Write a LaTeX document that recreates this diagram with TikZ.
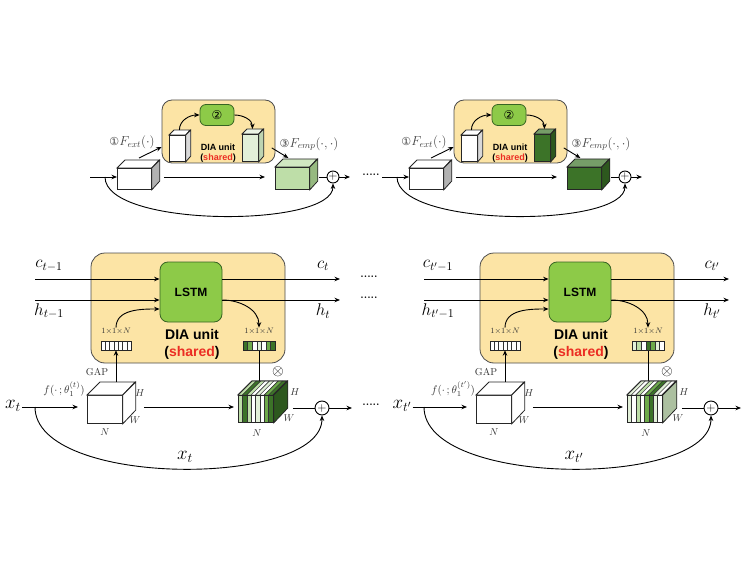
\RequirePackage{fix-cm}
\documentclass[tikz,border=0pt]{standalone}
\usepackage{fontspec}
\newfontfamily\arialfont{Liberation Sans}
\newfontfamily\symfont{DejaVu Sans}
\usetikzlibrary{arrows.meta,calc,positioning}

\definecolor{diayellow}{RGB}{252,228,165}
\definecolor{lstmgreen}{RGB}{141,202,72}
\definecolor{lstmedge}{RGB}{55,100,35}
\definecolor{sharedred}{RGB}{235,45,35}
\definecolor{vlg}{RGB}{226,240,216}
\definecolor{lg}{RGB}{190,222,168}
\definecolor{mg}{RGB}{110,170,75}
\definecolor{dg}{RGB}{60,115,40}
\definecolor{paleside}{RGB}{190,212,178}
\definecolor{lightside}{RGB}{150,185,128}
\definecolor{darkside}{RGB}{45,88,30}
\definecolor{sageside}{RGB}{172,192,160}

\tikzset{
  dia/.style={draw=black!70, fill=diayellow, rounded corners=10pt, line width=0.8pt},
  cell/.style={draw=lstmedge, fill=lstmgreen, rounded corners=6pt, line width=0.8pt},
  face/.style={draw=black!85, line width=0.8pt, inner sep=0pt},
  arr/.style={-{Stealth[length=5.5pt,width=4.5pt]}, line width=0.9pt},
  line/.style={line width=0.9pt},
  oplus/.style={circle, draw, line width=0.9pt, inner sep=0pt, font=\fontsize{12}{12}\selectfont},
  mlab/.style={inner sep=1pt, font=\fontsize{17}{17}\selectfont},
  flab/.style={inner sep=1pt, text=black!75, font=\fontsize{13}{13}\selectfont},
  dimlab/.style={inner sep=0pt, text=black!80, font=\fontsize{10}{10}\selectfont},
  dots/.style={inner sep=0pt, font=\bfseries\fontsize{11}{11}\selectfont},
}

% cuboid: name, x, y (front top left), width, height, depth, front colour, side colour
\newcommand{\featcube}[8]{%
  \node[face,fill=#7,minimum width=#4pt,minimum height=#5pt,anchor=north west] (#1) at (#2,#3) {};
  \draw[face,fill=#7!70!white] (#1.north west) -- ++(#6,-#6) -- ++(#4,0) -- (#1.north east) -- cycle;
  \draw[face,fill=#8] (#1.north east) -- ++(#6,-#6) -- ++(0,#5) -- (#1.south east) -- cycle;}

% striped front and top: x, y, width, height, depth, count, colours
\newcommand{\stripes}[7]{%
  \foreach \col [count=\k from 0] in {#7}{%
    \filldraw[fill=\col,draw=black!80,line width=0.4pt] ({#1+\k*#3/#6},#2) rectangle ++({#3/#6},#4);
    \filldraw[fill=\col,draw=black!80,line width=0.4pt] ({#1+\k*#3/#6},#2) -- ++(#5,-#5) -- ++({#3/#6},0) -- ++(-#5,#5) -- cycle;}
  \draw[face] (#1,#2) rectangle ++(#3,#4);
  \draw[face] (#1,#2) -- ++(#5,-#5) -- ++(#3,0) -- ++(-#5,#5);}

% 1x1xN vector: x, y, width, height, count, colours
\newcommand{\cells}[6]{%
  \foreach \col [count=\k from 0] in {#6}{%
    \filldraw[fill=\col,draw=black!80,line width=0.4pt] ({#1+\k*#3/#5},#2) rectangle ++({#3/#5},#4);}
  \draw[face] (#1,#2) rectangle ++(#3,#4);}

\begin{document}
\begin{tikzpicture}[x=1pt,y=-1pt]
\useasboundingbox (0,0) rectangle (751,577);

%% top row
\foreach \o/\s/\sc/\sd/\bc/\bd in {0/a/vlg/paleside/lg/lightside, 292/b/dg/darkside/dg/darkside}{
\begin{scope}[xshift=\o pt]
\node[dia, minimum width=113pt, minimum height=63pt] (dia\s) at (218.5,131.5) {};
\node[cell, minimum width=34pt, minimum height=21pt, font=\symfont\fontsize{12}{12}\selectfont] (two\s) at (217,115) {②};
\node[inner sep=0pt, font=\arialfont\bfseries\fontsize{9}{9}\selectfont] (name\s) at (218,147) {DIA unit};
\node[inner sep=0pt, font=\arialfont\bfseries\fontsize{9}{9}\selectfont] (shared\s) at (218,158) {(\textcolor{sharedred}{shared})};

\featcube{sw\s}{169}{135}{16}{26}{5}{white}{black!15}
\featcube{sg\s}{242}{134}{16}{27}{5}{\sc}{\sd}
\featcube{in\s}{117}{168}{34}{21}{8}{white}{black!30}
\featcube{bg\s}{275}{167}{34}{22}{8}{\bc}{\bd}

\node[oplus, minimum size=12pt] (sum\s) at (333,177) {$+$};
\coordinate (src\s) at (90,177);
\coordinate (skip\s) at (105,177);
\coordinate (out\s) at (350,177);
\coordinate (ext\s) at (139,158);

\draw[arr] (src\s) -- (src\s -| in\s.west);
\draw[arr, shorten <=12pt, shorten >=10pt] (in\s.east |- src\s) -- (bg\s.west |- src\s);
\draw[line, shorten <=9pt] (bg\s.east |- src\s) -- (sum\s.west);
\draw[arr] (sum\s.east) -- (out\s);
\draw[arr] (skip\s) .. controls (105,228) and (333,228) .. (sum\s.south);

\draw[arr] ([xshift=2pt,yshift=5pt]sw\s.north) to[out=90,in=180] (two\s.west);
\draw[arr] (two\s.east) to[out=0,in=90] ([xshift=2pt,yshift=5pt]sg\s.north);
\draw[arr] (ext\s) -- (dia\s.west |- 0,147);
\draw[arr] ([xshift=13pt]sg\s.east) -- ([xshift=-4pt,yshift=9pt]bg\s.north);

\node[flab] (fext\s) at (132,142) {{\symfont\fontsize{11}{11}\selectfont ①}$F_{ext}(\cdot)$};
\node[flab] (femp\s) at (309,144) {{\symfont\fontsize{11}{11}\selectfont ③}$F_{emp}(\cdot,\cdot)$};
\end{scope}
}
\node[dots] (dotstop) at (371,175) {.....};

%% bottom row
\foreach \o/\s/\tv/\gd in {0/a/t/darkside, 389/b/t'/sageside}{
\begin{scope}[xshift=\o pt]
\node[dia, rounded corners=14pt, minimum width=194pt, minimum height=110pt] (big\s) at (188,308) {};
\node[cell, rounded corners=8pt, minimum width=62pt, minimum height=60pt, font=\arialfont\bfseries\fontsize{12}{12}\selectfont] (lstm\s) at (191,292) {LSTM};
\node[inner sep=0pt, font=\arialfont\bfseries\fontsize{14}{14}\selectfont] (diatxt\s) at (192,334) {DIA unit};
\node[inner sep=0pt, font=\arialfont\bfseries\fontsize{14}{14}\selectfont] (shtxt\s) at (192,353) {(\textcolor{sharedred}{shared})};

\coordinate (cin\s) at (35,279);
\coordinate (hin\s) at (35,300);
\coordinate (cout\s) at (340,279);
\coordinate (hout\s) at (340,300);
\draw[arr] (cin\s) -- (cin\s -| lstm\s.west);
\draw[arr] (hin\s) -- (hin\s -| lstm\s.west);
\draw[arr] (cout\s -| lstm\s.east) -- (cout\s);
\draw[arr] (hout\s -| lstm\s.east) -- (hout\s);
\node[mlab] (cprev\s) at (49,266) {$c_{\tv-1}$};
\node[mlab] (hprev\s) at (49,311) {$h_{\tv-1}$};
\node[mlab] (cnext\s) at (323,266) {$c_{\tv}$};
\node[mlab] (hnext\s) at (323,311) {$h_{\tv}$};

% GAP vector and attention vector
\node[minimum width=30pt, minimum height=9pt, inner sep=0pt] (gapv\s) at (116,345.5) {};
\cells{101}{341}{30}{9}{7}{white,white,white,white,white,white,white}
\node[minimum width=32pt, minimum height=9pt, inner sep=0pt] (attv\s) at (259,345.5) {};
\node[dimlab, font=\fontsize{8}{8}\selectfont] (gapdim\s) at (116,331) {$1{\times}1{\times}N$};
\node[dimlab, font=\fontsize{8}{8}\selectfont] (attdim\s) at (259,331) {$1{\times}1{\times}N$};
\draw[arr] (gapdim\s.north) to[out=90,in=180] ($(lstm\s.west)+(0,17)$);
\draw[arr] (hout\s -| lstm\s.east) to[out=0,in=90] (attdim\s.north);

% feature cubes
\featcube{xc\s}{87}{395}{35}{28}{13}{white}{white}
\featcube{yc\s}{238}{395}{35}{27}{14}{white}{\gd}
\coordinate (gaptop\s) at (116,382);
\coordinate (atttip\s) at (0,388);
\draw[arr] (gaptop\s) -- (gapv\s.south);
\draw[arr] (attv\s.south) -- (attv\s.south |- atttip\s);
\node[dimlab] (gaplab\s) at (97,372) {GAP};
\node[inner sep=0pt, font=\fontsize{15}{15}\selectfont] (mul\s) at (278,372) {$\otimes$};
\node[dimlab] (h1\s) at (140,393) {$H$};
\node[dimlab] (w1\s) at (135,420) {$W$};
\node[dimlab] (n1\s) at (105,432) {$N$};
\node[dimlab] (h2\s) at (295,392) {$H$};
\node[dimlab] (w2\s) at (289,418) {$W$};
\node[dimlab] (n2\s) at (257,433) {$N$};

\node[mlab, font=\fontsize{19}{19}\selectfont] (xin\s) at (13,406) {$x_{\tv}$};
\node[dimlab, font=\fontsize{11}{11}\selectfont] (flab\s) at (64,389) {$f(\cdot\,;\theta_1^{(\tv)})$};
\node[oplus, minimum size=14pt] (sum\s) at (322,408) {$+$};
\coordinate (skip\s) at (35,407);
\coordinate (xout\s) at (352,408);
\draw[arr, shorten >=9pt] (xin\s.east |- skip\s) -- (xc\s.west |- skip\s);
\draw[arr, shorten <=21pt, shorten >=4pt] (xc\s.east |- skip\s) -- (yc\s.west |- skip\s);
\draw[line, shorten <=19pt] (yc\s.east |- sum\s) -- (sum\s.west);
\draw[arr] (sum\s.east) -- (xout\s);
\draw[arr] (skip\s) .. controls (35,488) and (322,488) .. (sum\s.south);
\node[mlab, font=\fontsize{19}{19}\selectfont] (xskip\s) at (185,457) {$x_{\tv}$};
\end{scope}
}

% channel weights
\stripes{238}{395}{35}{27}{14}{8}{lg,dg,lg,white,vlg,white,mg,dg}
\cells{243}{341}{32}{9}{7}{dg,mg,white,vlg,white,mg,dg}
\stripes{627}{395}{35}{27}{14}{8}{vlg,white,lg,white,mg,dg,vlg,white}
\cells{632}{341}{32}{9}{7}{vlg,lg,white,dg,mg,vlg,white}

\node[dots] (dotsc) at (369,277) {.....};
\node[dots] (dotsh) at (369,298) {.....};
\node[dots] (dotsx) at (371,405) {.....};
\end{tikzpicture}
\end{document}
